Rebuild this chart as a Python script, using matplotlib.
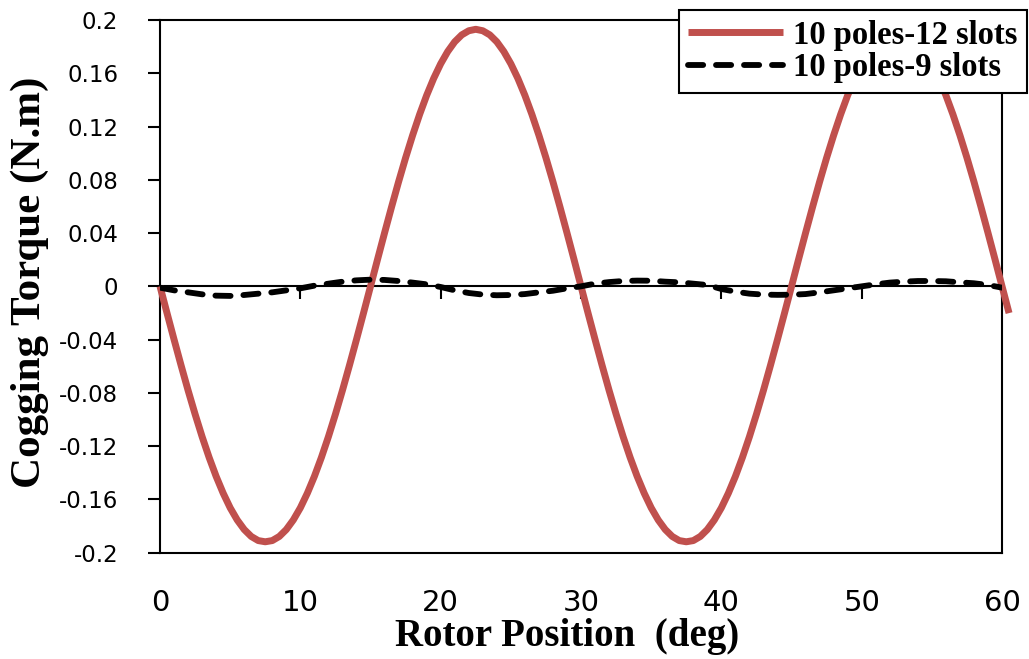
import numpy as np
import matplotlib
matplotlib.use('Agg')
import matplotlib.pyplot as plt

# ---------------- data ----------------
rotor_pos_12 = np.arange(0, 60.51, 0.5)
torque_10p12s = [
    0.0, -0.0201, -0.0399, -0.0593, -0.0781, -0.0960, -0.1129, -0.1285, -0.1427, -0.1553,
    -0.1663, -0.1754, -0.1826, -0.1878, -0.1909, -0.1918, -0.1909, -0.1878, -0.1826, -0.1754,
    -0.1663, -0.1553, -0.1427, -0.1285, -0.1129, -0.0960, -0.0781, -0.0593, -0.0399, -0.0201,
    0.0, 0.0202, 0.0401, 0.0596, 0.0785, 0.0965, 0.1134, 0.1291, 0.1434, 0.1561,
    0.1671, 0.1763, 0.1836, 0.1888, 0.1919, 0.1930, 0.1919, 0.1888, 0.1836, 0.1763,
    0.1671, 0.1561, 0.1434, 0.1291, 0.1134, 0.0965, 0.0785, 0.0596, 0.0401, 0.0202,
    0.0, -0.0201, -0.0399, -0.0593, -0.0781, -0.0960, -0.1129, -0.1285, -0.1427, -0.1553,
    -0.1663, -0.1754, -0.1826, -0.1878, -0.1909, -0.1918, -0.1909, -0.1878, -0.1826, -0.1754,
    -0.1663, -0.1553, -0.1427, -0.1285, -0.1129, -0.0960, -0.0781, -0.0593, -0.0399, -0.0201,
    0.0, 0.0202, 0.0401, 0.0596, 0.0785, 0.0965, 0.1134, 0.1291, 0.1434, 0.1561,
    0.1671, 0.1763, 0.1836, 0.1888, 0.1919, 0.1930, 0.1919, 0.1888, 0.1836, 0.1763,
    0.1671, 0.1561, 0.1434, 0.1291, 0.1134, 0.0965, 0.0785, 0.0596, 0.0401, 0.0202,
    0.0, -0.0201,
]

rotor_pos_9 = np.arange(0, 61, 1)
torque_10p9s = [
    -0.0010, -0.0030, -0.0045, -0.0060, -0.0070, -0.0072, -0.0065, -0.0055, -0.0045, -0.0030,
    -0.0015, 0.0005, 0.0020, 0.0035, 0.0045, 0.0050, 0.0048, 0.0040, 0.0028, 0.0015,
    -0.0005, -0.0030, -0.0050, -0.0062, -0.0067, -0.0065, -0.0058, -0.0045, -0.0033, -0.0015,
    0.0000, 0.0020, 0.0032, 0.0040, 0.0043, 0.0042, 0.0035, 0.0030, 0.0020, 0.0010,
    -0.0020, -0.0040, -0.0055, -0.0062, -0.0064, -0.0063, -0.0058, -0.0045, -0.0030, -0.0015,
    0.0000, 0.0015, 0.0028, 0.0035, 0.0040, 0.0040, 0.0038, 0.0030, 0.0023, 0.0010,
    -0.0010,
]

x_ticks = [0, 10, 20, 30, 40, 50, 60]
y_ticks = [-0.2, -0.16, -0.12, -0.08, -0.04, 0.0, 0.04, 0.08, 0.12, 0.16, 0.2]
y_tick_labels = ['-0.2', '-0.16', '-0.12', '-0.08', '-0.04', '0', '0.04', '0.08', '0.12', '0.16', '0.2']
series_labels = ['10 poles-12 slots', '10 poles-9 slots']
x_label = 'Rotor Position  (deg)'
y_label = 'Cogging Torque (N.m)'

# ---------------- figure ----------------
fig = plt.figure(figsize=(10.29, 6.59), dpi=100)
ax = fig.add_axes([0.1555, 0.1613, 0.8183, 0.8084])
ax.set_xlim(0, 60)
ax.set_ylim(-0.2, 0.2)

ax.plot(rotor_pos_12, torque_10p12s, color='#C0504D', lw=5, solid_capstyle='butt',
        clip_on=False, zorder=3, label=series_labels[0])
ax.plot(rotor_pos_9, torque_10p9s, color='black', lw=4.2, linestyle=(0, (2.6, 2.2)),
        dash_capstyle='round', zorder=4, label=series_labels[1])

for s in ax.spines.values():
    s.set_linewidth(1.5)
    s.set_color('black')

ax.set_xticks(x_ticks)
ax.set_xticklabels([str(t) for t in x_ticks], family=['Liberation Sans Narrow', 'DejaVu Sans'], fontsize=21)
ax.tick_params(axis='x', length=0, pad=26)
ax.set_yticks(y_ticks)
ax.set_yticklabels(y_tick_labels, fontsize=16.5, family='DejaVu Sans')
ax.tick_params(axis='y', direction='out', length=9, width=1.5, pad=21)

# horizontal axis line at y = 0 with downward tick marks
sec = ax.secondary_xaxis(0.5)
sec.set_alignment('bottom')
sec.set_xticks(x_ticks)
sec.tick_params(axis='x', direction='out', length=9, width=1.5, labelbottom=False, labeltop=False)
for s in sec.spines.values():
    s.set_linewidth(1.5)
    s.set_color('black')

fig.text(30 / 1029, 0.572, y_label, rotation=90, ha='center', va='center',
         family='Liberation Serif', fontweight='bold', fontsize=31)
fig.text(0.551, 0.0197, x_label, ha='center', va='baseline',
         family='Liberation Serif', fontweight='bold', fontsize=28)

leg = ax.legend(loc='upper right', bbox_to_anchor=(0.998, 0.985), bbox_transform=fig.transFigure,
                prop=dict(family='Liberation Serif', weight='bold', size=23.5),
                frameon=True, fancybox=False, framealpha=1, edgecolor='black',
                borderpad=0.3, labelspacing=0.05, handlelength=2.9, handletextpad=0.3,
                borderaxespad=0)
leg.get_frame().set_linewidth(1.5)
leg.set_zorder(10)

fig.savefig('out.png', dpi=100)
